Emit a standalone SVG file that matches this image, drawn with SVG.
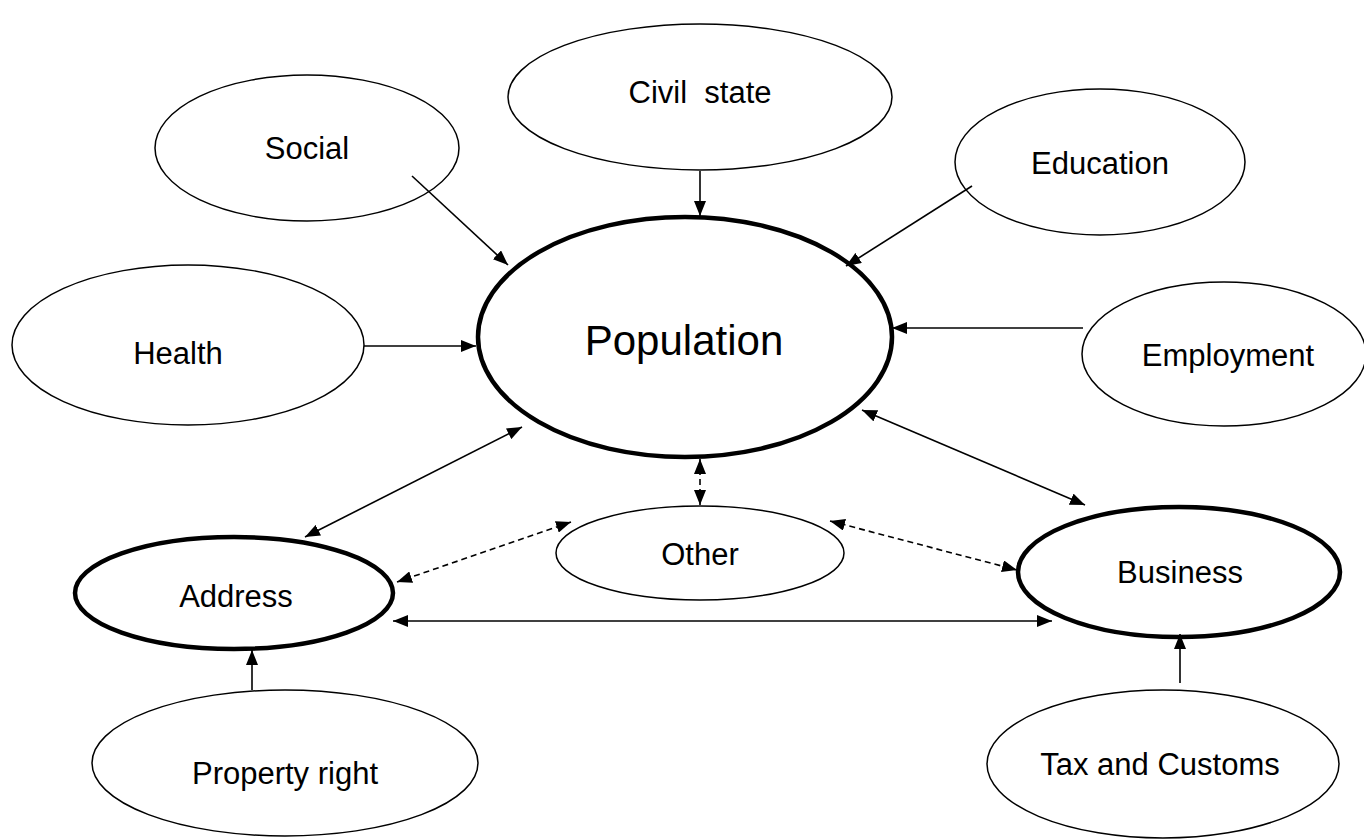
<svg xmlns="http://www.w3.org/2000/svg" width="1364" height="839" viewBox="0 0 1364 839">
<style>
.n{fill:#fff;stroke:#000;stroke-width:1.5}
.b{fill:#fff;stroke:#000;stroke-width:4.5}
.t{font-family:"Liberation Sans",Arial,sans-serif;font-size:31px;fill:#000;text-anchor:middle;dominant-baseline:central}
.c{stroke:#000;stroke-width:1.6;fill:none}
.d{stroke-dasharray:6 4}
</style>
<defs>
<marker id="ah" markerUnits="userSpaceOnUse" markerWidth="16" markerHeight="12" refX="15" refY="6" orient="auto-start-reverse">
<path d="M0,0 L15,6 L0,12 z" fill="#000"/>
</marker>
</defs>
<rect width="1364" height="839" fill="#fff"/>
<g id="civil"><ellipse class="n" cx="700" cy="97" rx="192" ry="73"/><text class="t" x="700" y="92" xml:space="preserve">Civil  state</text></g>
<g id="social"><ellipse class="n" cx="307" cy="148" rx="152" ry="73"/><text class="t" x="307" y="148">Social</text></g>
<g id="education"><ellipse class="n" cx="1100" cy="162" rx="145" ry="73"/><text class="t" x="1100" y="163">Education</text></g>
<g id="health"><ellipse class="n" cx="188" cy="345" rx="176" ry="80"/><text class="t" x="178" y="353">Health</text></g>
<g id="employment"><ellipse class="n" cx="1224" cy="354" rx="142" ry="72"/><text class="t" x="1228" y="355">Employment</text></g>
<g id="population"><ellipse class="b" cx="685" cy="337" rx="207" ry="120"/><text class="t" x="684" y="340" style="font-size:42px">Population</text></g>
<g id="other"><ellipse class="n" cx="700" cy="553" rx="144" ry="47"/><text class="t" x="700" y="554">Other</text></g>
<g id="address"><ellipse class="b" cx="234" cy="593" rx="159" ry="56"/><text class="t" x="236" y="596">Address</text></g>
<g id="business"><ellipse class="b" cx="1179" cy="572" rx="161" ry="65"/><text class="t" x="1180" y="572">Business</text></g>
<g id="property"><ellipse class="n" cx="285" cy="763" rx="193" ry="73"/><text class="t" x="285" y="773">Property right</text></g>
<g id="tax"><ellipse class="n" cx="1163" cy="764" rx="176" ry="74"/><text class="t" x="1160" y="764">Tax and Customs</text></g>
<g id="connectors">
<line class="c" x1="700" y1="171" x2="700" y2="216" marker-end="url(#ah)"/>
<line class="c" x1="412" y1="176" x2="508" y2="265" marker-end="url(#ah)"/>
<line class="c" x1="972" y1="186" x2="846" y2="266" marker-end="url(#ah)"/>
<line class="c" x1="364" y1="346" x2="476" y2="346" marker-end="url(#ah)"/>
<line class="c" x1="1083" y1="328" x2="892" y2="328" marker-end="url(#ah)"/>
<line class="c" x1="522" y1="427" x2="305" y2="537" marker-start="url(#ah)" marker-end="url(#ah)"/>
<line class="c" x1="862" y1="410" x2="1085" y2="505" marker-start="url(#ah)" marker-end="url(#ah)"/>
<line class="c d" x1="700" y1="459" x2="700" y2="505" marker-start="url(#ah)" marker-end="url(#ah)"/>
<line class="c d" x1="571" y1="522" x2="397" y2="582" marker-start="url(#ah)" marker-end="url(#ah)"/>
<line class="c d" x1="830" y1="521" x2="1017" y2="570" marker-start="url(#ah)" marker-end="url(#ah)"/>
<line class="c" x1="393" y1="621" x2="1052" y2="621" marker-start="url(#ah)" marker-end="url(#ah)"/>
<line class="c" x1="252" y1="690" x2="252" y2="650" marker-end="url(#ah)"/>
<line class="c" x1="1180" y1="683" x2="1180" y2="634" marker-end="url(#ah)"/>
</g>
</svg>
